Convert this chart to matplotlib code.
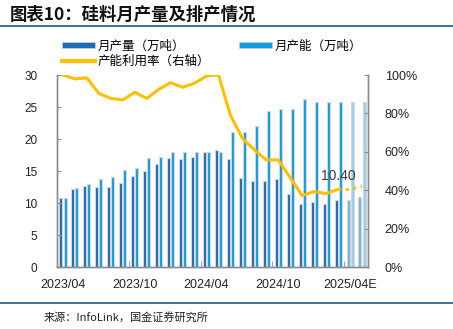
import numpy as np
import matplotlib
matplotlib.use("Agg")
import matplotlib.pyplot as plt
from matplotlib.patches import Patch
from matplotlib.lines import Line2D

plt.rcParams['font.family'] = ['Liberation Sans', 'Noto Sans CJK SC', 'DejaVu Sans']

# monthly polysilicon output / capacity (10k t) and utilisation (%)
months = ['2023/04', '2023/05', '2023/06', '2023/07', '2023/08', '2023/09',
          '2023/10', '2023/11', '2023/12', '2024/01', '2024/02', '2024/03',
          '2024/04', '2024/05', '2024/06', '2024/07', '2024/08', '2024/09',
          '2024/10', '2024/11', '2024/12', '2025/01', '2025/02', '2025/03',
          '2025/04E', '2025/05E']
production = [10.8, 12.15, 12.6, 12.45, 12.45, 13.15, 14.15, 15.05, 16.05, 17.1,
              16.8, 17.25, 17.9, 18.3, 16.8, 13.95, 13.4, 13.4, 13.75, 11.4,
              9.8, 10.15, 9.9, 10.4, 10.4, 11.0]
capacity = [10.8, 12.4, 12.9, 13.8, 14.05, 15.15, 15.4, 17.1, 17.2, 17.95,
            17.9, 18.0, 17.95, 18.0, 21.05, 21.05, 22.0, 24.4, 24.65, 24.65,
            26.25, 25.8, 25.8, 25.8, 25.8, 25.8]
utilization = [100, 98, 98.5, 90.4, 87.8, 87, 91, 87.8, 92.5, 96,
               93.6, 95.7, 99.5, 100, 79, 67, 61, 55.7, 55.8, 46.5,
               37.2, 39.3, 38.2, 40.5, 40.3, 42]
n_forecast = 2
tick_labels = ['2023/04', '2023/10', '2024/04', '2024/10', '2025/04E']
label_idx = 23  # month whose output is written on the chart

c_prod, c_cap = '#1a6bb8', '#0a9ee6'
c_prod_e, c_cap_e = '#79b1dd', '#93d0f2'
c_line = '#ffc000'
c_axis = '#8c8c8c'

fig = plt.figure(figsize=(4.53, 3.29), dpi=100)
ax = fig.add_axes([57 / 453, 1 - 267 / 329, 311 / 453, 192 / 329])
ax2 = ax.twinx()

x = np.arange(len(months))
n_act = len(months) - n_forecast
w = 0.25
off = 0.17
prod_cols = [c_prod] * n_act + [c_prod_e] * n_forecast
cap_cols = [c_cap] * n_act + [c_cap_e] * n_forecast
ax.bar(x - off, production, w, color=prod_cols, edgecolor='#d6d6d6', linewidth=0.8)
ax.bar(x + off, capacity, w, color=cap_cols, edgecolor='#d6d6d6', linewidth=0.8)

ax.annotate(f'{production[label_idx]:.2f}', (x[label_idx] - off, production[label_idx]),
            xytext=(2, 17), textcoords='offset pixels', ha='center', va='bottom',
            fontsize=10, color='#3a3a3a')

u = np.array(utilization) / 100
ax2.plot(x[:n_act], u[:n_act], color=c_line, lw=2.2, solid_joinstyle='round', zorder=5)
ax2.plot(x[n_act - 1:], u[n_act - 1:], color=c_line, lw=2.2, ls=(0, (1, 1.5)), zorder=5)

ax.set_xlim(-0.5, len(months) - 0.5)
ax.set_ylim(0, 30)
ax.set_yticks(np.arange(0, 31, 5))
ax2.set_ylim(0, 1)
ax2.set_yticks(np.linspace(0, 1, 6))
ax2.set_yticklabels([f'{int(v * 100)}%' for v in np.linspace(0, 1, 6)])

ax.set_xticks(x[::6])
ax.set_xticklabels(tick_labels)
ax.set_xticks(np.arange(5.5, len(months) - 1, 6), minor=True)
ax.tick_params(axis='x', which='major', length=0, pad=9, labelsize=9, colors='#222222')
ax.tick_params(axis='x', which='minor', direction='in', length=4, color=c_axis)
ax.tick_params(axis='y', direction='in', length=3, color=c_axis, labelsize=8.5,
               labelcolor='#222222', pad=14)
ax2.tick_params(axis='y', direction='in', length=3, color=c_axis, labelsize=9,
                labelcolor='#222222', pad=12)

for a in (ax, ax2):
    a.spines['top'].set_visible(False)
    for s in ('left', 'right', 'bottom'):
        a.spines[s].set_color(c_axis)
        a.spines[s].set_linewidth(1.0)

handles = [Patch(facecolor=c_prod, edgecolor='#cccccc', linewidth=0.6),
           Line2D([0], [0], color=c_line, lw=3),
           Patch(facecolor=c_cap, edgecolor='#cccccc', linewidth=0.6)]
labels = ['月产量（万吨）', '产能利用率（右轴）', '月产能（万吨）']
fig.legend(handles, labels, ncol=2, loc='upper left', bbox_to_anchor=(56 / 453, 1 - 34 / 329),
           frameon=False, fontsize=9, handlelength=2.6, handleheight=0.3,
           handletextpad=0.25, columnspacing=2.3, labelspacing=0.25, borderpad=0)

fig.text(10 / 453, 1 - 15 / 329, '图表10：硅料月产量及排产情况', fontsize=12.5, fontweight='bold',
         family=['Noto Sans CJK SC'], va='center', ha='left', color='#111111')
fig.add_artist(Line2D([0, 1], [1 - 26 / 329] * 2, color='#2f6690', lw=1.3))
fig.add_artist(Line2D([0, 1], [1 - 303 / 329] * 2, color='#2f6690', lw=1.3))
fig.text(44 / 453, 1 - 317 / 329, '来源：InfoLink，国金证券研究所', fontsize=8,
         family=['Noto Sans CJK SC'], va='center', ha='left', color='#222222')

fig.savefig('out.png', dpi=100)
